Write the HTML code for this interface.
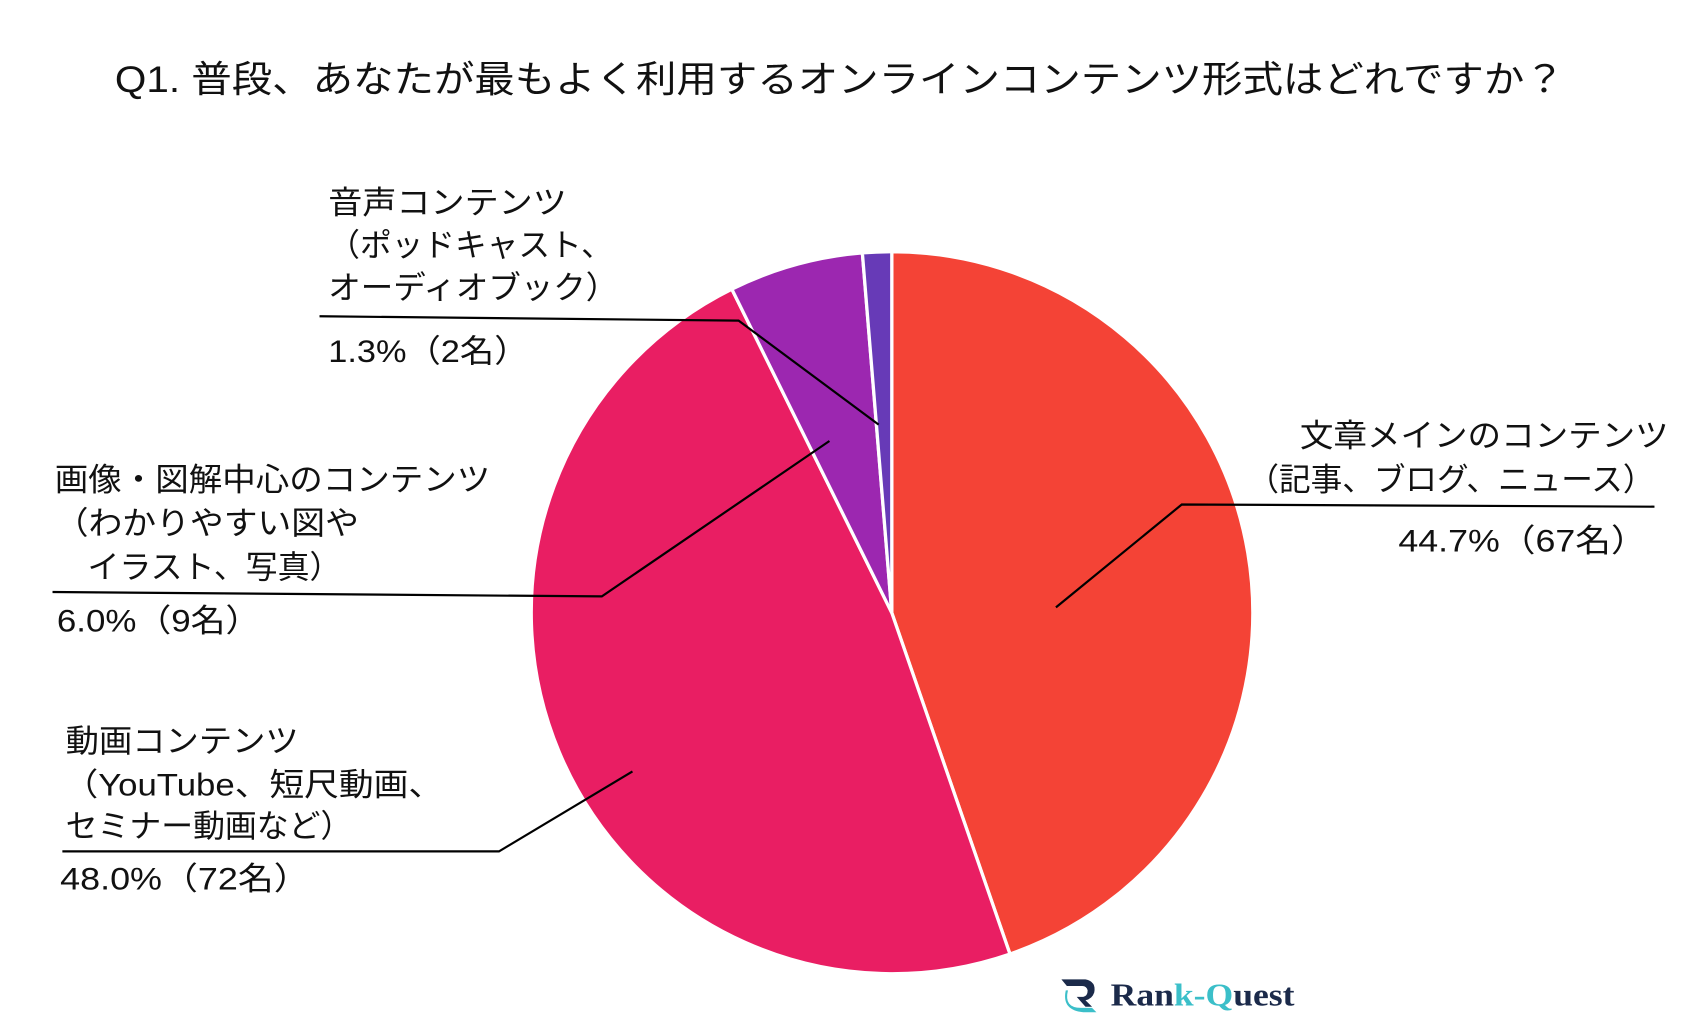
<!DOCTYPE html>
<html><head><meta charset="utf-8"><style>
html,body{margin:0;padding:0;background:#fff;width:1707px;height:1021px;overflow:hidden}
svg{display:block}
text{font-family:"Liberation Sans","Noto Sans CJK JP",sans-serif;fill:#111}
</style></head><body>
<svg width="1707" height="1021" viewBox="0 0 1560 933" preserveAspectRatio="none">
<text x="105" y="84" font-size="34" textLength="1325" lengthAdjust="spacingAndGlyphs">Q1. 普段、あなたが最もよく利用するオンラインコンテンツ形式はどれですか？</text>
<g stroke="#fff" stroke-width="3">
<path d="M815,560 L815,230 A330,330 0 0 1 923,871.8 Z" fill="#F44336"/>
<path d="M815,560 L923,871.8 A330,330 0 0 1 668.8,264.2 Z" fill="#E91E63"/>
<path d="M815,560 L668.8,264.2 A330,330 0 0 1 788.1,231.1 Z" fill="#9C27B0"/>
<path d="M815,560 L788.1,231.1 A330,330 0 0 1 815,230 Z" fill="#673AB7"/>
</g>
<g stroke="#000" stroke-width="2" fill="none">
<polyline points="292,289 675,293 803,388"/>
<polyline points="1512,463 1080,461 965,555"/>
<polyline points="48,541 550,545 758,403"/>
<polyline points="57,778 456,778 578,705"/>
</g>
<g font-size="29" lengthAdjust="spacingAndGlyphs">
<text x="300" y="195" textLength="218" lengthAdjust="spacingAndGlyphs">音声コンテンツ</text>
<text x="300" y="234" textLength="260" lengthAdjust="spacingAndGlyphs">（ポッドキャスト、</text>
<text x="300" y="273" textLength="265" lengthAdjust="spacingAndGlyphs">オーディオブック）</text>
<text x="300" y="331" textLength="183" lengthAdjust="spacingAndGlyphs">1.3%（2名）</text>
<text x="1188" y="408" textLength="337" lengthAdjust="spacingAndGlyphs">文章メインのコンテンツ</text>
<text x="1140" y="448" textLength="372" lengthAdjust="spacingAndGlyphs">（記事、ブログ、ニュース）</text>
<text x="1278" y="504" textLength="227" lengthAdjust="spacingAndGlyphs">44.7%（67名）</text>
<text x="50" y="448" textLength="398" lengthAdjust="spacingAndGlyphs">画像・図解中心のコンテンツ</text>
<text x="50" y="488" textLength="278" lengthAdjust="spacingAndGlyphs">（わかりやすい図や</text>
<text x="80" y="528" textLength="232" lengthAdjust="spacingAndGlyphs">イラスト、写真）</text>
<text x="52" y="577" textLength="186" lengthAdjust="spacingAndGlyphs">6.0%（9名）</text>
<text x="60" y="687" textLength="213" lengthAdjust="spacingAndGlyphs">動画コンテンツ</text>
<text x="58" y="727" textLength="347" lengthAdjust="spacingAndGlyphs">（YouTube、短尺動画、</text>
<text x="60" y="765" textLength="262" lengthAdjust="spacingAndGlyphs">セミナー動画など）</text>
<text x="55" y="813" textLength="228" lengthAdjust="spacingAndGlyphs">48.0%（72名）</text>
</g>
<g transform="translate(970,893)">
<path d="M0,2 L22,2 Q32,4 30,14 Q28,20 22,21 L28,27 L22,27 L14,18 L20,18 Q24,17 24,12 Q23,8 19,8 L5,8 Z" fill="#1b2a4a"/>
<path d="M6,12 Q2,28 18,28 L28,28 L32,32 L20,32 Q0,30 4,12 Z" fill="#3bbfc9"/>
<text x="45" y="26" font-size="29" font-weight="bold" textLength="168" lengthAdjust="spacingAndGlyphs" style="font-family:'Liberation Serif',serif;fill:#1b2a4a">Ran<tspan style="fill:#3bbfc9">k-Q</tspan>uest</text>
</g>
</svg>
</body></html>
